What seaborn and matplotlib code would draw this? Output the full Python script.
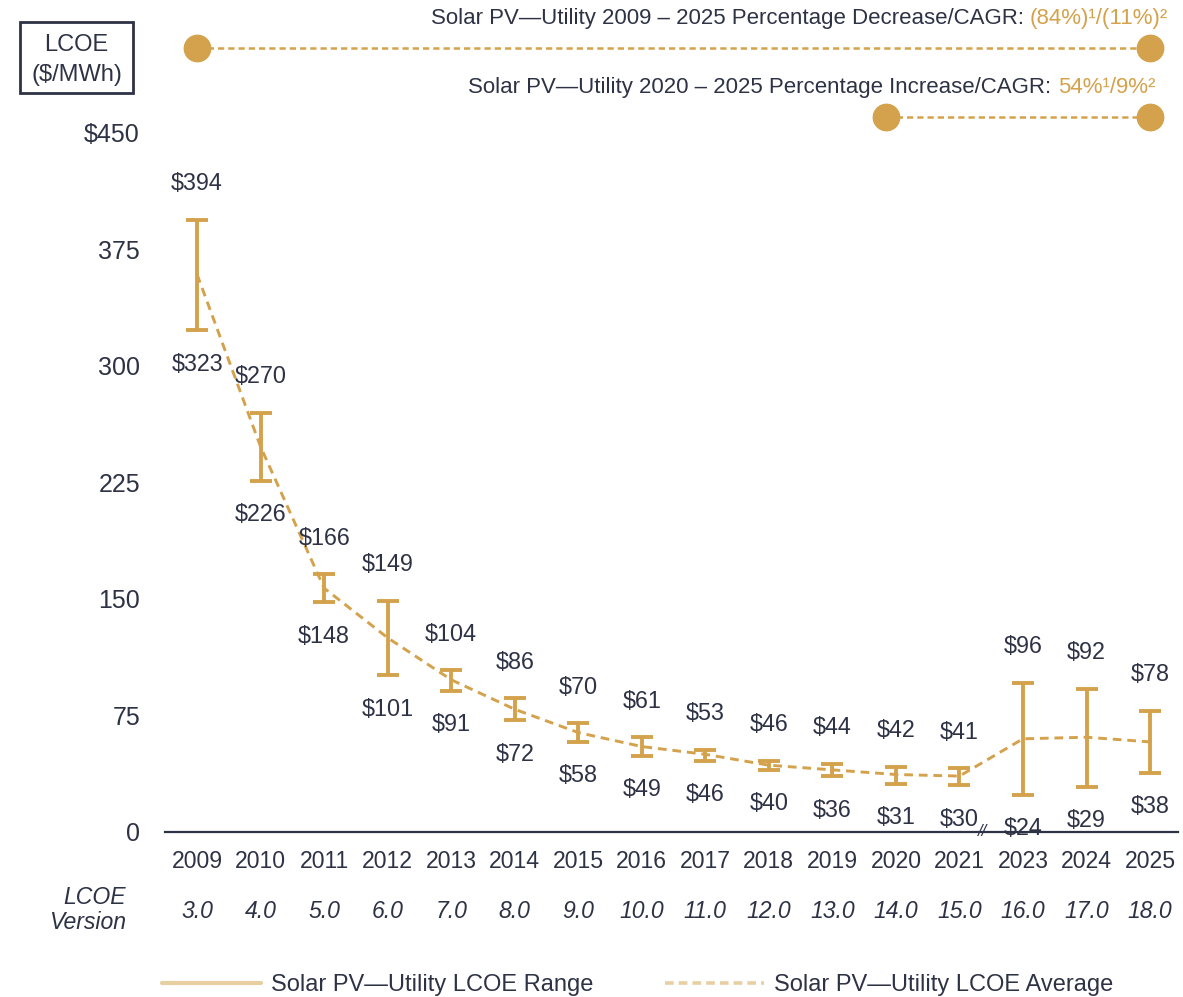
import numpy as np
import pandas as pd
import matplotlib
matplotlib.use("Agg")
import matplotlib.pyplot as plt
from matplotlib.lines import Line2D
from matplotlib.patches import Rectangle
from matplotlib.offsetbox import TextArea, HPacker, AnnotationBbox
import seaborn as sns

# ---------------- data ----------------
years = ["2009", "2010", "2011", "2012", "2013", "2014", "2015", "2016",
         "2017", "2018", "2019", "2020", "2021", "2023", "2024", "2025"]
versions = ["3.0", "4.0", "5.0", "6.0", "7.0", "8.0", "9.0", "10.0",
            "11.0", "12.0", "13.0", "14.0", "15.0", "16.0", "17.0", "18.0"]
lcoe_high = [394, 270, 166, 149, 104, 86, 70, 61, 53, 46, 44, 42, 41, 96, 92, 78]
lcoe_low = [323, 226, 148, 101, 91, 72, 58, 49, 46, 40, 36, 31, 30, 24, 29, 38]
lcoe_avg = [359, 248, 157, 125, 98, 79, 64, 55, 50, 43, 40, 37, 36, 60, 61, 58]
y_ticks = [0, 75, 150, 225, 300, 375, 450]
y_tick_labels = ["0", "75", "150", "225", "300", "375", "$450"]

GOLD = "#D4A24C"
GOLD_LIGHT = "#E8CFA2"
NAVY = "#2E3245"
FONT = "Liberation Sans"

sns.set_theme(style="white")
plt.rcParams["font.family"] = [FONT, "DejaVu Sans"]

df = pd.DataFrame({"pos": np.arange(len(years)), "year": years,
                   "avg": lcoe_avg, "low": lcoe_low, "high": lcoe_high})

W, H = 1183, 997
fig = plt.figure(figsize=(W / 100, H / 100), dpi=100)
ax = fig.add_axes([0.1395, 0.1655, 0.8563, 0.8258])

# average (dashed)
sns.lineplot(data=df, x="pos", y="avg", ax=ax, color=GOLD, linewidth=2.1,
             legend=False, zorder=2)
ax.lines[-1].set_dashes((3, 2))

# range bars
mid = (df["low"] + df["high"]) / 2
half = (df["high"] - df["low"]) / 2
ax.errorbar(df["pos"], mid, yerr=half, fmt="none", ecolor=GOLD,
            elinewidth=2.8, capsize=8, capthick=2.8, zorder=3)

# value labels
LBL = 16.8
for i, (lo, hi) in enumerate(zip(lcoe_low, lcoe_high)):
    ax.annotate(f"${hi}", xy=(i, hi), xytext=(0, 26), textcoords="offset points",
                ha="center", va="center", fontsize=LBL, color=NAVY,
                annotation_clip=False)
    ax.annotate(f"${lo}", xy=(i, lo), xytext=(0, -24.5), textcoords="offset points",
                ha="center", va="center", fontsize=LBL, color=NAVY,
                annotation_clip=False)

# axes styling
ax.set_xlim(-0.504, 15.44)
ax.set_ylim(0, 530)
ax.set_yticks(y_ticks)
ax.set_yticklabels(y_tick_labels, fontsize=18, color=NAVY)
ax.set_xticks(df["pos"])
ax.set_xticklabels(years, fontsize=16.6, color=NAVY)
ax.tick_params(axis="y", length=0, pad=18)
ax.tick_params(axis="x", length=0, pad=13)
for s in ["left", "right", "top"]:
    ax.spines[s].set_visible(False)
ax.spines["bottom"].set_color(NAVY)
ax.spines["bottom"].set_linewidth(1.6)
ax.set_xlabel("")
ax.set_ylabel("")
ax.grid(False)

# versions row
for i, v in enumerate(versions):
    ax.annotate(v, xy=(i, 0), xycoords=("data", "axes fraction"),
                xytext=(0, -57), textcoords="offset points", ha="center",
                va="center", fontsize=16.6, style="italic", color=NAVY,
                annotation_clip=False)
fig.text(126 / W, 1 - 910 / H, "LCOE\nVersion", ha="right", va="center",
         fontsize=16.6, style="italic", color=NAVY, linespacing=1.1)

# axis break mark
ax.text(12.36, 0, "//", ha="center", va="center", fontsize=12, style="italic",
        color=NAVY, clip_on=False)

# LCOE unit box
fig.add_artist(Rectangle((20 / W, 1 - 93 / H), 113 / W, 71 / H,
                         transform=fig.transFigure, fill=False, ec=NAVY, lw=2))
fig.text(76.5 / W, 1 - 45 / H, "LCOE", ha="center", va="center",
         fontsize=17, color=NAVY)
fig.text(76.5 / W, 1 - 75 / H, "($/MWh)", ha="center", va="center",
         fontsize=17, color=NAVY)

# top annotations
def mixed(parts, x, y, size):
    areas = [TextArea(t, textprops=dict(color=c, fontsize=size, family=FONT))
             for t, c in parts]
    box = HPacker(children=areas, align="baseline", pad=0, sep=0)
    ab = AnnotationBbox(box, (x, y), xycoords="figure pixels",
                        box_alignment=(1, 0.5), frameon=False)
    fig.add_artist(ab)

mixed([("Solar PV\u2014Utility 2009 \u2013 2025 Percentage Decrease/CAGR: ", NAVY),
       ("(84%)\u00b9/(11%)\u00b2", GOLD)], 1168, H - 18, 16)
mixed([("Solar PV\u2014Utility 2020 \u2013 2025 Percentage Increase/CAGR: ", NAVY),
       ("54%\u00b9/9%\u00b2", GOLD)], 1155, H - 87, 16)

ax.plot([0, 15], [505, 505], color=GOLD, lw=1.8, dashes=(2.5, 1.6), clip_on=False,
        zorder=4)
ax.plot([0, 15], [505, 505], "o", color=GOLD, ms=19, clip_on=False, zorder=5)
ax.plot([10.85, 15], [460, 460], color=GOLD, lw=1.8, dashes=(2.5, 1.6),
        clip_on=False, zorder=4)
ax.plot([10.85, 15], [460, 460], "o", color=GOLD, ms=19, clip_on=False, zorder=5)

# legend
handles = [Line2D([], [], color=GOLD_LIGHT, lw=3),
           Line2D([], [], color=GOLD_LIGHT, lw=2.6, dashes=(2.4, 1.4))]
fig.legend(handles, ["Solar PV\u2014Utility LCOE Range",
                     "Solar PV\u2014Utility LCOE Average"],
           loc="center", bbox_to_anchor=(0.539, 1 - 985 / H), ncol=2,
           frameon=False, fontsize=17, handlelength=4.2, columnspacing=3.0,
           labelcolor=NAVY, handletextpad=0.45)

fig.savefig("out.png", dpi=100)
